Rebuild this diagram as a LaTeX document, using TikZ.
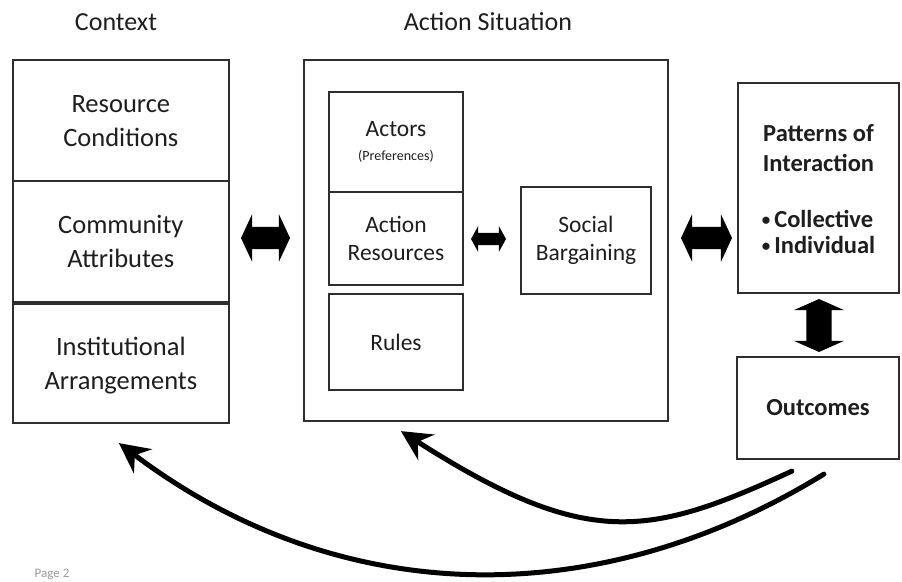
\documentclass[tikz,border=0pt]{standalone}
\usepackage{fontspec}
\setmainfont{Carlito}
\usetikzlibrary{arrows.meta,shapes.arrows}
\definecolor{ink}{HTML}{1E1E1E}
\definecolor{frame}{HTML}{2E2E2E}
\definecolor{pagegray}{HTML}{9A9A9A}
\newcommand{\listdot}{{\fontsize{17}{17}\selectfont\raisebox{1.5pt}{•}}\hspace{4pt}}
\begin{document}
\begin{tikzpicture}[x=1pt,y=-1pt,
  box/.style={draw=frame, line width=2.2pt, fill=white, inner sep=0pt, align=center, text=ink},
  ctxbox/.style={box, minimum width=216.3pt, font=\fontsize{26.5}{34}\selectfont},
  inbox/.style={box, font=\fontsize{23.5}{28}\selectfont},
  outbox/.style={box, font=\bfseries\fontsize{24.5}{30}\selectfont},
  boldtext/.style={text=ink, align=center, inner sep=0pt, font=\bfseries\fontsize{24.5}{30}\selectfont},
  heading/.style={text=ink, font=\fontsize{26}{31}\selectfont, inner sep=0pt},
  blockarrow/.style={shape=double arrow, fill=black, draw=none, inner xsep=0pt, minimum width=0pt},
  bigarrow/.style={blockarrow, inner ysep=11pt, double arrow head extend=12.5pt, double arrow tip angle=130},
  smallarrow/.style={blockarrow, inner ysep=6pt, double arrow head extend=6.5pt, double arrow tip angle=122, minimum height=35pt},
  feedback/.style={draw=black, line width=5pt, line cap=round, -{Stealth[length=30pt,width=30pt,inset=10pt]}}
]
\useasboundingbox (0,0) rectangle (902,581);

% column headings
\node[heading] (ctxhead) at (116,22) {Context};
\node[heading] (ashead) at (488,22) {Action Situation};

% context column
\node[ctxbox, minimum height=121pt, text depth=-8pt] (ctxA) at (120.85,120.5) {Resource\\Conditions};
\node[ctxbox, minimum height=121pt] (ctxB) at (120.85,241.5) {Community\\Attributes};
\node[ctxbox, minimum height=119pt, text depth=-4pt] (ctxC) at (120.85,363.5) {Institutional\\Arrangements};

% action situation frame and its parts
\node[box, minimum width=364pt, minimum height=361pt] (asit) at (486,240.5) {};
\node[inbox, minimum width=134pt, minimum height=100pt] (actors) at (396,142)
  {Actors\\[-4pt]{\fontsize{14}{16}\selectfont (Preferences)}};
\node[inbox, minimum width=134pt, minimum height=93pt] (actres) at (396,238.5) {Action\\Resources};
\node[inbox, minimum width=134pt, minimum height=96pt] (rules) at (396,342) {Rules};
\node[inbox, minimum width=130pt, minimum height=107pt] (social) at (586,240.5) {Social\\Bargaining};

% results column
\node[outbox, minimum width=161pt, minimum height=210pt] (patterns) at (818.5,188) {};
\node[boldtext] (patterns text) at ([yshift=-5pt]patterns.center)
  {Patterns of\\Interaction\\[36pt]{\def\arraystretch{0.87}\begin{tabular}{@{}l@{}}\listdot Collective\\\listdot Individual\end{tabular}}};
\node[outbox, minimum width=162pt, minimum height=102pt] (outcomes) at (818,408) {Outcomes};

% two-way block arrows
\node[bigarrow, minimum height=49pt] (ctx2as) at (265.5,238) {};
\node[smallarrow] (res2soc) at (488.5,239) {};
\node[bigarrow, minimum height=51pt] (as2pat) at (706.5,238) {};
\node[blockarrow, rotate=90, inner ysep=12.5pt, double arrow head extend=12.5pt, double arrow tip angle=132, minimum height=53pt] (pat2out) at (819,325.5) {};

% feedback from outcomes
\draw[feedback] ([shift={(56,11)}]outcomes.south west) .. controls (649,537) and (587,550) .. ([shift={(98,9)}]asit.south west);
\draw[feedback] ([shift={(88,14)}]outcomes.south west) .. controls (598,613) and (340,610) .. ([shift={(107.3,19)}]ctxC.south west);

\node[text=pagegray, font=\fontsize{13}{15}\selectfont, inner sep=0pt] (page) at (52,574) {Page 2};
\end{tikzpicture}
\end{document}
